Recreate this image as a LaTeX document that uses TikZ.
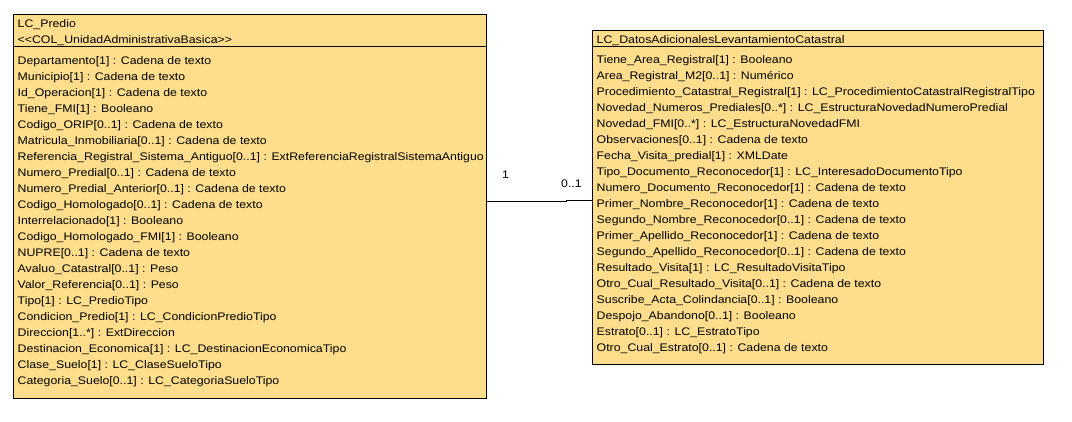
\documentclass[tikz,border=0pt]{standalone}
\usepackage{fontspec}
\setmainfont[FakeStretch=1.12]{Liberation Sans}
\definecolor{umlfill}{RGB}{254,222,140}
\begin{document}
\begin{tikzpicture}[x=1pt,y=-1pt,
  classbox/.style={draw=black,fill=umlfill,line width=1pt,anchor=north west,inner sep=0pt,outer sep=0pt},
  attr/.style={anchor=base west,inner sep=0pt,font=\fontsize{11}{13}\selectfont},
  mult/.style={anchor=base west,inner sep=0pt,font=\fontsize{11}{13}\selectfont}]
\useasboundingbox (0,0) rectangle (1072,422);
% boxes
\node[classbox,minimum width=473pt,minimum height=383pt] (predio) at (13.5,15) {};
\node[classbox,minimum width=451pt,minimum height=334pt] (datos) at (592.5,31) {};
\draw[line width=1pt] (predio.north west |- 0,47) coordinate (ps1) -- (predio.north east |- 0,47) coordinate (ps2);
\draw[line width=1pt] (datos.north west |- 0,46.5) coordinate (ds1) -- (datos.north east |- 0,46.5) coordinate (ds2);
% left texts
\node[attr] (pt) at (17.5,28) {LC\_Predio};
\node[attr] (ps) at (17.5,44) {<{}<COL\_UnidadAdministrativaBasica>{}>};
\foreach \t [count=\i from 0] in {
 Departamento[1] : Cadena de texto,
 Municipio[1] : Cadena de texto,
 Id\_Operacion[1] : Cadena de texto,
 Tiene\_FMI[1] : Booleano,
 Codigo\_ORIP[0..1] : Cadena de texto,
 Matricula\_Inmobiliaria[0..1] : Cadena de texto,
 Referencia\_Registral\_Sistema\_Antiguo[0..1] : ExtReferenciaRegistralSistemaAntiguo,
 Numero\_Predial[0..1] : Cadena de texto,
 Numero\_Predial\_Anterior[0..1] : Cadena de texto,
 Codigo\_Homologado[0..1] : Cadena de texto,
 Interrelacionado[1] : Booleano,
 Codigo\_Homologado\_FMI[1] : Booleano,
 NUPRE[0..1] : Cadena de texto,
 Avaluo\_Catastral[0..1] : Peso,
 Valor\_Referencia[0..1] : Peso,
 Tipo[1] : LC\_PredioTipo,
 Condicion\_Predio[1] : LC\_CondicionPredioTipo,
 Direccion[1..*] : ExtDireccion,
 Destinacion\_Economica[1] : LC\_DestinacionEconomicaTipo,
 Clase\_Suelo[1] : LC\_ClaseSueloTipo,
 Categoria\_Suelo[0..1] : LC\_CategoriaSueloTipo}
 {\node[attr] (pa\i) at (17.5,{64.5+16*\i}) {\t};}
% right texts
\node[attr] (dt) at (596.5,44) {LC\_DatosAdicionalesLevantamientoCatastral};
\foreach \t [count=\i from 0] in {
 Tiene\_Area\_Registral[1] : Booleano,
 Area\_Registral\_M2[0..1] : Numérico,
 Procedimiento\_Catastral\_Registral[1] : LC\_ProcedimientoCatastralRegistralTipo,
 Novedad\_Numeros\_Prediales[0..*] : LC\_EstructuraNovedadNumeroPredial,
 Novedad\_FMI[0..*] : LC\_EstructuraNovedadFMI,
 Observaciones[0..1] : Cadena de texto,
 Fecha\_Visita\_predial[1] : XMLDate,
 Tipo\_Documento\_Reconocedor[1] : LC\_InteresadoDocumentoTipo,
 Numero\_Documento\_Reconocedor[1] : Cadena de texto,
 Primer\_Nombre\_Reconocedor[1] : Cadena de texto,
 Segundo\_Nombre\_Reconocedor[0..1] : Cadena de texto,
 Primer\_Apellido\_Reconocedor[1] : Cadena de texto,
 Segundo\_Apellido\_Reconocedor[0..1] : Cadena de texto,
 Resultado\_Visita[1] : LC\_ResultadoVisitaTipo,
 Otro\_Cual\_Resultado\_Visita[0..1] : Cadena de texto,
 Suscribe\_Acta\_Colindancia[0..1] : Booleano,
 Despojo\_Abandono[0..1] : Booleano,
 Estrato[0..1] : LC\_EstratoTipo,
 Otro\_Cual\_Estrato[0..1] : Cadena de texto}
 {\node[attr] (da\i) at (596.5,{63.5+16*\i}) {\t};}
% association
\coordinate (jog) at (566,202);
\draw[line width=1pt] (predio.east |- jog) -- (jog) -- ++(0,-1) -- (datos.west |- 0,201);
\node[mult] (m1) at (502,179) {1};
\node[mult] (m2) at (561,188) {0..1};
\end{tikzpicture}
\end{document}
